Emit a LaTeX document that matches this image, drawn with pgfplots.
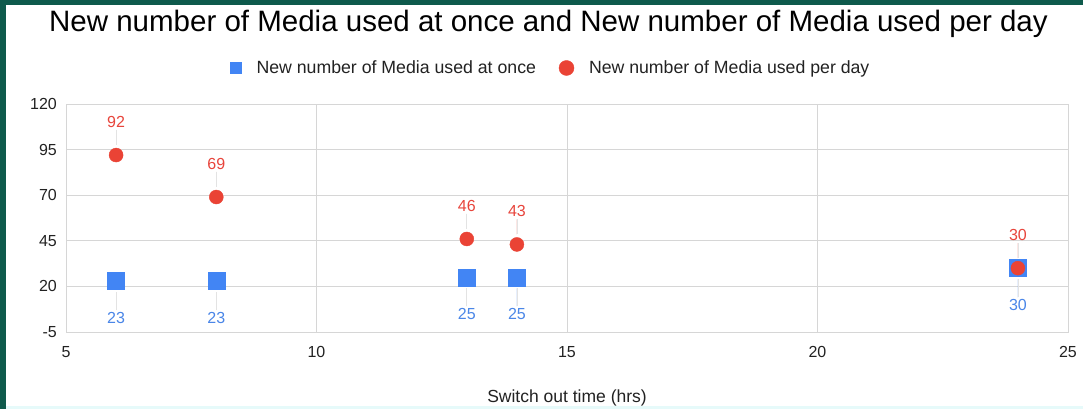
\documentclass[border=0pt]{standalone}
\usepackage{fontspec}
\setmainfont{Liberation Sans}
\usepackage{pgfplots}
\pgfplotsset{compat=1.18}

\definecolor{frameteal}{HTML}{0E5A4C}
\definecolor{edgecyan}{HTML}{E6FAFA}
\definecolor{gblue}{HTML}{4285F4}
\definecolor{gred}{HTML}{EA4335}
\definecolor{bluelabel}{HTML}{4A86E8}
\definecolor{redlabel}{HTML}{E8453C}
\definecolor{gridgray}{HTML}{D6D6D6}
\definecolor{leader}{HTML}{E3E3E3}
\definecolor{ticktext}{HTML}{222222}

\begin{document}
\begin{tikzpicture}[x=1pt,y=1pt]
% page background and frame
\fill[white] (0pt,0pt) rectangle (1083pt,409pt);
\fill[frameteal] (0pt,0pt) rectangle (6pt,409pt);
\fill[frameteal] (0pt,404pt) rectangle (1083pt,409pt);
\fill[edgecyan] (6pt,0pt) rectangle (1083pt,3pt);

\node[font=\fontsize{29.5}{33}\selectfont, text=black, anchor=center]
  at (548.5pt,385pt) {New number of Media used at once and New number of Media used per day};

\begin{axis}[
  at={(66pt,77pt)}, anchor=south west,
  scale only axis, width=1002pt, height=228pt,
  xmin=5, xmax=25, ymin=-5, ymax=120,
  xtick={5,10,15,20,25},
  ytick={-5,20,45,70,95,120},
  grid=major,
  major grid style={draw=gridgray, line width=0.8pt},
  axis line style={draw=gridgray, line width=0.8pt},
  tick style={draw=none},
  /pgf/number format/assume math mode=true,
  ticklabel style={font=\fontsize{16}{18}\selectfont, text=ticktext},
  yticklabel style={inner sep=0pt, anchor=east, xshift=-9pt},
  xticklabel style={inner sep=0pt, anchor=north, yshift=-14pt},
  xlabel={Switch out time (hrs)},
  xlabel style={at={(axis description cs:0.5,0)}, anchor=center, yshift=-66pt,
    font=\fontsize{17.5}{20}\selectfont, text=ticktext},
  legend columns=2,
  legend cell align=left,
  legend style={draw=none, fill=none, at={(0.5,1)}, anchor=center,
    xshift=-16pt, yshift=36pt, font=\fontsize{17.7}{20}\selectfont, text=ticktext,
    /tikz/every odd column/.append style={column sep=13pt},
    /tikz/every even column/.append style={column sep=21pt}},
  clip=false,
]

% media used at once
\addplot[only marks, mark=square*, mark size=8.5pt, draw=gblue, fill=gblue,
  legend image post style={mark size=5.5pt},
  nodes near coords,
  every node near coord/.append style={font=\fontsize{16}{18}\selectfont,
    text=bluelabel, inner sep=0pt, anchor=center, yshift=-37pt,
    append after command={([yshift=2pt]\tikzlastnode.north) edge[draw=leader, line width=0.8pt] ([yshift=20pt]\tikzlastnode.north)}},
] coordinates {(6,23) (8,23) (13,25) (14,25) (24,30)};
\addlegendentry{New number of Media used at once}

% media used per day
\addplot[only marks, mark=*, mark size=7pt, draw=gred, fill=gred,
  legend image post style={mark size=7.5pt},
  nodes near coords,
  every node near coord/.append style={font=\fontsize{16}{18}\selectfont,
    text=redlabel, inner sep=0pt, anchor=center, yshift=33pt,
    append after command={([yshift=-2pt]\tikzlastnode.south) edge[draw=leader, line width=0.8pt] ([yshift=-17pt]\tikzlastnode.south)}},
] coordinates {(6,92) (8,69) (13,46) (14,43) (24,30)};
\addlegendentry{New number of Media used per day}

\end{axis}
\end{tikzpicture}
\end{document}
